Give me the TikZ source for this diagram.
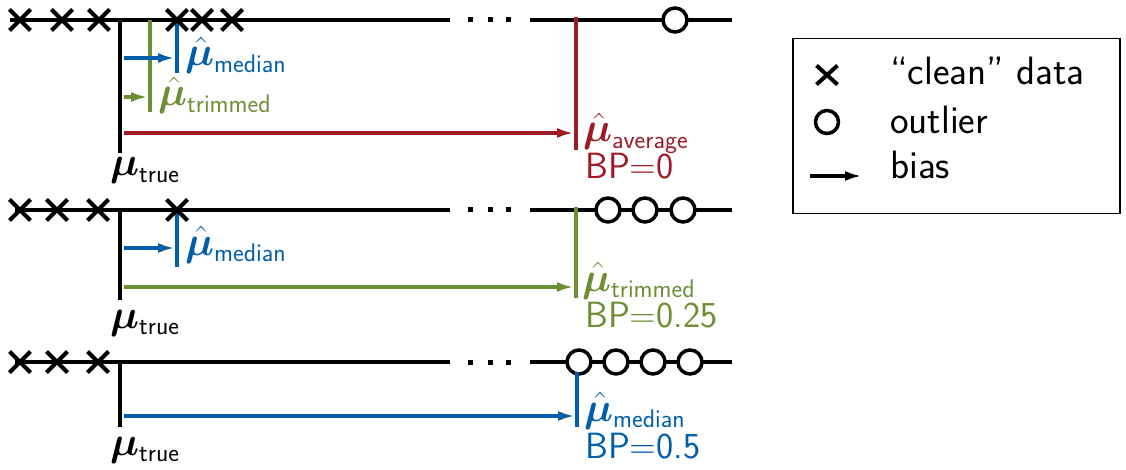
\RequirePackage{fix-cm}
\documentclass[tikz,border=0pt]{standalone}
\usepackage{amsmath,bm}
\usepackage{fontspec}
\usetikzlibrary{arrows.meta,shapes.misc}
\DeclareMathSizes{36.5}{41}{25.5}{18}
\definecolor{cblue}{RGB}{0,94,170}
\definecolor{cgreen}{RGB}{108,142,52}
\definecolor{cred}{RGB}{158,27,37}
\newcommand{\muh}{\bm{\hat{\mu}}}
\newcommand{\mut}{\bm{\mu}_{\textsf{true}}}
\begin{document}
\begin{tikzpicture}[x=1pt,y=-1pt,
  font=\sffamily\fontsize{36.5}{42}\selectfont,
  axis/.style={line width=4pt},
  xmark/.style={cross out,draw,line width=4pt,minimum size=17pt,inner sep=0pt},
  omark/.style={circle,draw,line width=3.5pt,fill=white,minimum size=24pt,inner sep=0pt},
  est/.style={line width=4pt},
  bias/.style={line width=3.5pt,-{Latex[length=17pt,width=10pt]}},
  lab/.style={anchor=base west,inner sep=0pt},
  legtext/.style={anchor=base west,inner sep=0pt,font=\sffamily\fontsize{39.5}{46}\selectfont}]
\useasboundingbox (0,0) rectangle (1126,470);

% ---------- row 1 ----------
\draw[axis] (10,20) -- (450,20);
\draw[axis] (530,20) -- (732,20);
\foreach \x in {470,490,508} \fill (\x-2.5,17.5) rectangle +(5,5);
\coordinate (t1a) at (120,20); \coordinate (t1b) at (120,153);
\draw[axis] (t1a) -- (t1b);
\coordinate (g1a) at (150,20); \coordinate (g1b) at (150,112);
\draw[est,cgreen] (g1a) -- (g1b);
\coordinate (b1a) at (177,20); \coordinate (b1b) at (177,73);
\draw[est,cblue] (b1a) -- (b1b);
\coordinate (r1a) at (576,17); \coordinate (r1b) at (576,150);
\draw[est,cred] (r1a) -- (r1b);
\coordinate (ab1s) at (124,58); \coordinate (ab1e) at (175,58);
\draw[bias,cblue] (ab1s) -- (ab1e);
\coordinate (ag1s) at (124,97); \coordinate (ag1e) at (148,97);
\draw[bias,cgreen] (ag1s) -- (ag1e);
\coordinate (ar1s) at (124,133); \coordinate (ar1e) at (574,133);
\draw[bias,cred] (ar1s) -- (ar1e);
\foreach \x [count=\i] in {20,62,99,177,202,232} \node[xmark] (x1\i) at (\x,20) {};
\node[omark] (o11) at (675,20) {};
\node[lab] (mt1) at (110,176) {$\mut$};
\node[lab,text=cblue] (mm1) at (185,66) {$\muh_{\textsf{median}}$};
\node[lab,text=cgreen] (mtr1) at (158,106) {$\muh_{\textsf{trimmed}}$};
\node[lab,text=cred] (ma1) at (583,142) {$\muh_{\textsf{average}}$};
\node[lab,text=cred] (bp1) at (585,179) {BP=0};

% ---------- row 2 ----------
\draw[axis] (15,210) -- (450,210);
\draw[axis] (530,210) -- (732,210);
\foreach \x in {470,490,508} \fill (\x-2.5,207.5) rectangle +(5,5);
\coordinate (t2a) at (120,210); \coordinate (t2b) at (120,300);
\draw[axis] (t2a) -- (t2b);
\coordinate (b2a) at (177,210); \coordinate (b2b) at (177,267);
\draw[est,cblue] (b2a) -- (b2b);
\coordinate (g2a) at (576,207); \coordinate (g2b) at (576,298);
\draw[est,cgreen] (g2a) -- (g2b);
\coordinate (ab2s) at (124,248); \coordinate (ab2e) at (175,248);
\draw[bias,cblue] (ab2s) -- (ab2e);
\coordinate (ag2s) at (124,287); \coordinate (ag2e) at (574,287);
\draw[bias,cgreen] (ag2s) -- (ag2e);
\foreach \x [count=\i] in {20,57,98,177} \node[xmark] (x2\i) at (\x,210) {};
\foreach \x [count=\i] in {608,645,683} \node[omark] (o2\i) at (\x,210) {};
\node[lab] (mt2) at (110,328) {$\mut$};
\node[lab,text=cblue] (mm2) at (185,255) {$\muh_{\textsf{median}}$};
\node[lab,text=cgreen] (mtr2) at (582,291) {$\muh_{\textsf{trimmed}}$};
\node[lab,text=cgreen] (bp2) at (585,327) {BP=0.25};

% ---------- row 3 ----------
\draw[axis] (15,362) -- (450,362);
\draw[axis] (530,362) -- (732,362);
\foreach \x in {470,490,508} \fill (\x-2.5,359.5) rectangle +(5,5);
\coordinate (t3a) at (120,362); \coordinate (t3b) at (120,427);
\draw[axis] (t3a) -- (t3b);
\coordinate (b3a) at (577,372); \coordinate (b3b) at (577,427);
\coordinate (ab3s) at (124,416); \coordinate (ab3e) at (575,416);
\draw[bias,cblue] (ab3s) -- (ab3e);
\foreach \x [count=\i] in {20,57,98} \node[xmark] (x3\i) at (\x,362) {};
\foreach \x [count=\i] in {579,616,653,690} \node[omark] (o3\i) at (\x,362) {};
\draw[est,cblue] (b3a) -- (b3b);
\node[lab] (mt3) at (110,455) {$\mut$};
\node[lab,text=cblue] (mm3) at (584,421) {$\muh_{\textsf{median}}$};
\node[lab,text=cblue] (bp3) at (585,458) {BP=0.5};

% ---------- legend ----------
\node[draw,line width=1.5pt,minimum width=327pt,minimum height=175pt,anchor=north west,inner sep=0pt] (leg) at (792,38) {};
\node[cross out,draw,line width=4pt,minimum width=17pt,minimum height=15pt,inner sep=0pt] (lx) at (827,75) {};
\node[circle,draw,line width=3.5pt,minimum size=23pt,inner sep=0pt] (lo) at (827,122) {};
\coordinate (las) at (810,176); \coordinate (lae) at (862,176);
\draw[bias] (las) -- (lae);
\node[legtext] (lt1) at (890,85) {``clean'' data};
\node[legtext] (lt2) at (890,134) {outlier};
\node[legtext] (lt3) at (890,179) {bias};
\end{tikzpicture}
\end{document}
